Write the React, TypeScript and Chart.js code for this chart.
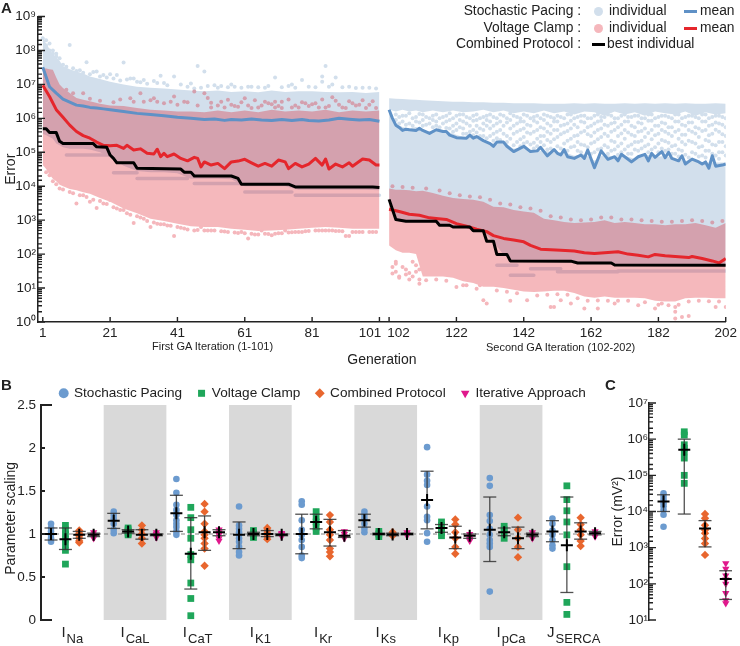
import React, { useEffect, useRef } from "react";
import { Chart, registerables } from "chart.js";
Chart.register(...registerables);

const FONT = "'Liberation Sans', Arial, sans-serif";
const INK = "#222222";
const BLUE_BAND = "#D2DFEC";
const PINK_BAND = "rgba(219,0,16,0.28)";
const PINK_SOLID = "#F5B7BC";
const MAUVE_SOLID = "#D4A0AE";
const BLUE_MEAN = "#5F91C6";
const RED_MEAN = "#E5262C";

const ITERATION_GAP = 1.87;
const pos = (g: number) => (g <= 101 ? g : g + ITERATION_GAP);
const xTickGens = [1, 21, 41, 61, 81, 101, 102, 122, 142, 162, 182, 202];

// ---- Panel A: first iteration
const bandGensA = [1,2,3,4,5,6,7,9,11,13,15,18,21,25,29,33,37,41,45,49,53,57,61,65,69,73,77,81,85,89,93,97,101];
const blueUpperA = [2.3e8,1.6e8,1.1e8,7.9e7,6.3e7,5e7,3.4e7,2.8e7,2.4e7,2.1e7,1.7e7,1.45e7,1.2e7,1e7,8.5e6,7.9e6,7.6e6,7.1e6,6.6e6,6.3e6,6.6e6,6e6,6.3e6,5.9e6,6.6e6,6e6,6.3e6,6.3e6,6e6,5.9e6,6e6,5.6e6,6e6];
const blueLowerA = [3.5e5,3.2e5,2.8e5,2.5e5,1.8e5,1.6e5,1.4e5,1.26e5,1.26e5,1.26e5,1.2e5,1e5,7.1e4,4e4,2.8e4,2.6e4,2.6e4,2.4e4,1.66e4,1.66e4,1.66e4,1.6e4,1e4,1e4,1e4,1e4,7.9e3,7.9e3,7.9e3,7.9e3,7.9e3,7.9e3,7.6e3];
const pinkUpperA = [3e7,2.95e7,2.8e7,2.7e7,1.6e7,1e7,7.8e6,5.6e6,4e6,3.5e6,3.2e6,2.7e6,2.4e6,2.3e6,2e6,1.8e6,1.7e6,1.6e6,1.6e6,1.5e6,1.7e6,1.5e6,1.7e6,1.5e6,1.8e6,1.6e6,1.7e6,1.6e6,1.8e6,1.5e6,1.7e6,1.6e6,1.7e6];
const pinkLowerA = [4.2e4,3.2e4,2.2e4,1.66e4,1.4e4,1.1e4,1e4,8.3e3,7.6e3,6.6e3,6e3,4.5e3,3.5e3,2.2e3,1.6e3,1.1e3,9.5e2,7.9e2,6.6e2,6.3e2,6.3e2,5.6e2,5.2e2,4.8e2,5e2,5.2e2,5.6e2,6e2,6.3e2,6e2,5.6e2,5.6e2,5.6e2];

const blueMeanGensA = [1,3,5,7,9,11,13,15,17,19,21,25,29,33,37,41,45,49,52,55,57,60,63,66,69,72,75,78,80,83,86,89,92,95,98,101];
const blueMeanA = [3.2e7,8.5e6,5.5e6,3.7e6,3e6,2.45e6,2.3e6,2.1e6,2e6,1.9e6,1.8e6,1.6e6,1.4e6,1.3e6,1.2e6,1.07e6,1e6,9.3e5,9.5e5,8.7e5,9.3e5,8.9e5,9.5e5,9e5,8.7e5,9.3e5,8.6e5,9.2e5,8.7e5,8.4e5,8.9e5,1e6,9.4e5,8.9e5,9.3e5,8.2e5];
const redMeanGensA = [1,3,5,7,9,11,13,15,17,19,21,23,25,26,28,30,32,34,35,36,37,38,40,42,44,46,47,48,49,51,53,55,57,59,61,63,65,67,69,71,73,74,76,78,80,82,84,85,86,88,90,92,93,96,98,100,101];
const redMeanA = [9.5e6,4.4e6,1.8e6,1.07e6,6.3e5,4.1e5,3.1e5,2.6e5,2e5,1.6e5,1.55e5,1.6e5,1.3e5,1.6e5,1.17e5,1.26e5,9.3e4,8.9e4,1.23e5,7.4e4,9.3e4,7.4e4,8.9e4,6.6e4,5.6e4,7.1e4,6.6e4,3.7e4,5.2e4,4.2e4,4.7e4,3.3e4,5.2e4,5.5e4,6.2e4,4.9e4,3.9e4,4.7e4,3.9e4,5.9e4,5.2e4,3.3e4,4.7e4,3.7e4,4.5e4,6.6e4,4.2e4,6.3e4,3.2e4,4.5e4,3.7e4,4.9e4,3.9e4,6.3e4,5.9e4,4.2e4,4.2e4];
const bestGensA = [1,2,3,5,6,7,16,17,20,21,22,23,28,29,42,43,45,46,57,59,60,74,76,99,101];
const bestA = [4.9e5,4.9e5,3.8e5,3.8e5,2.1e5,1.8e5,1.8e5,1.45e5,1.4e5,8.3e4,6.6e4,4.9e4,4.9e4,3.4e4,3.2e4,2.6e4,2.6e4,2e4,2e4,1.7e4,1.15e4,1.15e4,9.5e3,9.5e3,9.1e3];

const blueOutGensA = [1,2,2,3,3,4,4,5,5,6,6,8,9,11,14,17,19,21,25,27,28,31,36,40,45,46,47,49,50,58,67,70,78,84,84,85,88,54,62,74,92,96];
const blueOutA = [2.3e8,2e8,1.4e8,1.6e8,1e8,1e8,8e7,6.6e7,8e7,5.9e7,3.7e7,3.3e7,1.45e8,2.5e7,4.5e7,2.4e7,1.9e7,2e7,4.4e7,1.5e7,1.5e7,1.35e7,1.8e7,1.7e7,1.07e7,7.6e6,3.5e7,2.4e7,9e6,8.5e6,8e6,1.6e7,1.35e7,1.2e7,1.7e7,3.5e7,1.6e7,9e6,8.5e6,9e6,8.5e6,8e6];
const blueOutGensA2 = [7,10,12,13,15,16,18,20,22,23,24,26,29,30,32,34,35,37,38,42,44,48,52,53,56,57,60,63,65,68,72,75,76,80,82,86,87,90,94,98,100];
const blueOutA2 = [3.8e7,3e7,2.6e7,2.2e7,2e7,2.3e7,1.7e7,1.6e7,1.5e7,1.9e7,1.3e7,1.4e7,1.2e7,1.15e7,1.05e7,1.25e7,1.1e7,1.1e7,9.5e6,1e7,8.5e6,8e6,9.5e6,8e6,8.2e6,1e7,8e6,8.5e6,8.2e6,9e6,8.2e6,1e7,8e6,8.5e6,8.2e6,8.5e6,1e7,8.2e6,7.8e6,8e6,7.6e6];
const pinkHighGensA = [8,8,10,13,15,18,27,30,31,34,35,39,40,43,46,49,51,54,57,59,61,63,67,68,70,72,72,75,79,82,83,88,91,93,95,97,100,55,51,65,70,77,85,90];
const pinkHighA = [6.9e6,4.9e6,5.5e6,5.5e6,3.8e6,3.3e6,3.9e6,5.5e6,3.1e6,3.9e6,3.1e6,3.1e6,4.4e6,3.1e6,6.2e6,5.5e6,2.9e6,3.1e6,2.5e6,2.2e6,3.9e6,2e6,3.1e6,2.8e6,3.1e6,3.1e6,2e6,2.1e6,2.8e6,2.8e6,2.1e6,3.3e6,2e6,2.8e6,2.5e6,2e6,2e6,2.1e6,2.1e6,2.1e6,2.1e6,2.1e6,2.1e6,2.1e6];
const pinkHighGensA2 = [22,24,28,33,37,41,44,47,50,53,56,58,60,62,64,66,69,71,74,76,78,80,81,84,86,87,89,92,94,96,98,99];
const pinkHighA2 = [3e6,3.6e6,3.1e6,3.4e6,2.8e6,2.5e6,3e6,2.4e6,4e6,2.4e6,3.5e6,2.3e6,3e6,2.4e6,3.4e6,2.4e6,2.6e6,2.3e6,3.6e6,2.4e6,3e6,2.3e6,2.6e6,3.6e6,2.3e6,4.2e6,2.5e6,3.2e6,2.4e6,3.4e6,2.5e6,3.2e6];
const pinkLowGensA = [3,6,11,15,17,19,21,25,28,33,40,46,48,60,62,63,66,67,69,73,78,87,91,92];
const pinkLowA = [2.1e4,8.5e3,3.1e3,3.5e3,2.3e3,3.1e3,3.9e3,2e3,8.3e2,6.3e2,3.4e2,5e2,6.3e2,4.5e2,2.9e2,4e2,5e2,4e2,3.6e2,5e2,4.5e2,5e2,3.4e2,3.4e2];
const pinkEdgeGensA = [2,4,5,7,9,10,12,13,14,16,18,20,22,23,24,26,27,29,30,31,32,34,35,36,37,38,39,41,42,43,44,47,49,50,51,52,54,55,56,58,59,61,64,65,68,70,71,72,74,75,76,77,79,80,82,83,84,85,86,88,89,90,93,94,95,96,98,99,100];
const pinkEdgeA = [2.6e4,1.4e4,1.15e4,8e3,6.8e3,6.2e3,5.4e3,5.4e3,4.8e3,4e3,3.7e3,3e3,2.4e3,2.2e3,2e3,1.6e3,1.45e3,1.3e3,1.2e3,1.1e3,9.5e2,8.5e2,7.8e2,7.6e2,7.6e2,7e2,6.8e2,6.3e2,6e2,5.7e2,5.3e2,5.1e2,5e2,5e2,5e2,5e2,4.7e2,4.6e2,4.5e2,4.3e2,4.2e2,4.1e2,3.8e2,3.8e2,3.9e2,4e2,4.1e2,4.1e2,4.3e2,4.4e2,4.5e2,4.5e2,4.7e2,4.8e2,5e2,5e2,5e2,5e2,5e2,4.8e2,4.8e2,4.7e2,4.5e2,4.5e2,4.5e2,4.5e2,4.5e2,4.5e2,4.5e2];
const stripesA = [[8,21,8.3e4],[22,29,2.5e4],[29,44,1.7e4],[46,60,1.2e4],[61,75,6.8e3],[76,101,5.4e3]];

// ---- Panel A: second iteration
const bandGensB = [102,104,106,108,110,112,115,118,121,124,127,130,133,136,139,142,145,148,151,154,157,160,163,166,169,172,175,178,181,184,187,190,193,196,199,202];
const blueStripUpperB = [3.9e6,3.8e6,3.7e6,3.6e6,3.5e6,3.4e6,3.3e6,3.2e6,3.1e6,3.1e6,3e6,3e6,2.9e6,2.9e6,2.8e6,2.8e6,2.8e6,2.7e6,2.7e6,2.7e6,2.8e6,2.7e6,2.8e6,2.7e6,2.7e6,2.8e6,2.7e6,2.8e6,2.7e6,2.8e6,2.7e6,2.8e6,2.7e6,2.7e6,2.8e6,2.7e6];
const blueStripLowerB = [1.8e6,1.6e6,1.8e6,1.6e6,1.7e6,1.5e6,1.7e6,1.5e6,1.7e6,1.5e6,1.6e6,1.8e6,1.5e6,1.7e6,1.4e6,1.6e6,1.4e6,1.7e6,1.4e6,1.6e6,1.3e6,1.6e6,1.5e6,1.2e6,1.6e6,1.3e6,1.5e6,1.2e6,1.6e6,1.4e6,1.3e6,1.6e6,1.2e6,1.5e6,1.3e6,1.4e6];
const blueCoreUpperB = [1.6e6,7.1e5,5.6e5,5e5,5.6e5,4.5e5,4e5,4.5e5,3.5e5,2.8e5,2.8e5,2.2e5,1.8e5,2e5,1.26e5,1.4e5,1.1e5,1.1e5,1e5,1e5,7.9e4,8.9e4,5.6e4,8.9e4,7.1e4,7.9e4,6.3e4,8.9e4,7.1e4,7.9e4,6.3e4,5.6e4,5.6e4,5e4,5e4,5e4];
const blueCoreLowerB = [3.9e3,1e3,9e2,9e2,9e2,9e2,9e2,7e2,6.2e2,6.2e2,4.9e2,4.7e2,2.3e2,9.5e1,6e1,6e1,6e1,6e1,6e1,6e1,6e1,5.2e1,5.2e1,5.2e1,5.2e1,4.6e1,4.6e1,4.6e1,4.6e1,4.5e1,4.5e1,4.5e1,4.5e1,4.5e1,4.5e1,4.5e1];
const pinkUpperB = [8.5e3,7.9e3,7.9e3,7.6e3,7.1e3,7.4e3,6.3e3,5.2e3,4.5e3,4.2e3,4e3,3.5e3,2.5e3,2.4e3,2e3,1.8e3,1.66e3,1.1e3,1e3,8.9e2,8.3e2,8.5e2,8.9e2,1e3,8.3e2,8.9e2,8.3e2,7.6e2,7.6e2,7.1e2,7.6e2,7.6e2,8.3e2,7.1e2,6e2,8.3e2];
const pinkLowerB = [178,130,110,110,100,22,22,22,20,16,14,11,11,10,8.9,7.9,7.6,7.9,8.3,8.3,7.1,5.6,5.2,5.6,5.2,5.2,5.2,5,4.2,4,4,5,5.2,5.2,5,5];

const blueMeanGensB = [102,103,104,105,106,107,108,110,111,112,114,116,118,119,120,122,125,126,127,128,130,132,133,134,136,137,139,142,144,146,147,149,151,152,153,154,155,157,159,160,161,163,165,167,169,170,171,172,174,176,178,179,180,181,183,184,185,186,188,189,190,192,194,195,196,197,198,199,201,202];
const blueMeanB = [1.8e6,1e6,6.3e5,5.4e5,4.4e5,4.8e5,4.6e5,4.4e5,5.1e5,4.4e5,3.6e5,4.6e5,4.1e5,4.1e5,3.2e5,2.7e5,2.6e5,3.2e5,2.6e5,2.9e5,2.2e5,1.8e5,1.5e5,2e5,2e5,1.5e5,1.05e5,1.5e5,1.05e5,1.1e5,1.4e5,7.8e4,1.2e5,9.3e4,8.3e4,1.2e5,7.4e4,6.6e4,8.3e4,6.6e4,1.17e5,3.5e4,1.1e5,6.2e4,7.4e4,5.6e4,8.7e4,7.4e4,5.2e4,7.4e4,8.7e4,5.6e4,9.3e4,7.1e4,1.05e5,6.9e4,1e5,6.6e4,5.6e4,7.9e4,4.5e4,6.3e4,5.2e4,4.5e4,5.2e4,3.4e4,7.9e4,3.9e4,4.2e4,4.5e4];
const redMeanGensB = [102,105,108,111,114,116,119,122,125,128,131,133,136,139,142,144,147,150,153,157,160,163,167,170,173,176,179,181,184,188,191,192,195,198,200,202];
const redMeanB = [2.1e3,1.8e3,1.5e3,1.4e3,1.17e3,1.12e3,1.05e3,7.9e2,6.6e2,5.4e2,4.6e2,3.5e2,2.9e2,2.6e2,2.3e2,1.8e2,1.4e2,1.35e2,1.3e2,1.23e2,1.1e2,1.05e2,1.12e2,1.17e2,1e2,9.3e1,8.3e1,9.8e1,8.9e1,8.3e1,7.9e1,8.5e1,7.4e1,6.3e1,5.5e1,7.4e1];
const bestGensB = [102,104,107,116,117,120,121,126,127,130,131,133,134,137,138,156,158,168,169,202];
const bestB = [4.1e3,1.05e3,9.3e2,9.3e2,7.1e2,7.1e2,6.3e2,6.3e2,4.9e2,4.9e2,2.4e2,2.4e2,9.8e1,9.8e1,6.3e1,6.2e1,5.5e1,5.5e1,4.8e1,4.7e1];

const blueGapB: [number, number[]][] = [
  [104,[1.3e6,9e5]],[105,[1.1e6,7e5]],[106,[1.2e6,8e5]],[107,[1.2e6,6.5e5]],[108,[1.4e6,7e5]],[109,[1e6,6e5]],[110,[1.1e6,8e5]],[111,[1.35e6,7.5e5]],[112,[1.3e6,9e5,6e5]],[113,[1.1e6,6.5e5]],
  [114,[1e6,7e5]],[115,[1.2e6,9e5,5.5e5]],[116,[1.3e6,8e5,6e5]],[117,[1e6,5.5e5]],[118,[1.1e6,7e5]],[119,[1.2e6,8e5,5.2e5]],[120,[1.4e6,9e5,5e5]],[121,[1e6,6e5,4e5]],[122,[1.2e6,7e5,4.5e5]],[123,[1.3e6,9e5,5.5e5]],
  [124,[1.3e6,8e5,5e5,3.5e5]],[125,[1.1e6,7e5,3.5e5]],[126,[1e6,6e5,4e5]],[127,[1.2e6,8.5e5,4.5e5,3.2e5]],[128,[1.3e6,9e5,6e5,3.8e5]],[129,[1e6,5e5,3e5]],[130,[1.1e6,7e5,4.5e5,3e5]],[131,[1.2e6,9e5,6e5,2.6e5]],
  [132,[1.3e6,8e5,5e5,3e5]],[133,[1.1e6,6e5,3.5e5,2.2e5]],[134,[1e6,7e5,4e5,2.6e5]],[135,[1.3e6,8e5,4.5e5,2.3e5]],[136,[1.2e6,6e5,3.5e5]],[137,[1e6,7.5e5,3e5,2e5]],[138,[1.4e6,9e5,5e5,2.5e5]],[139,[1.2e6,6e5,3.5e5,1.6e5]],
  [140,[1.1e6,7e5,4e5,2e5]],[141,[1e6,8e5,4.5e5,2.4e5,1.5e5]],[142,[1.3e6,8e5,5e5,2.8e5,1.8e5]],[143,[1.2e6,6.5e5,3.8e5,2e5]],[144,[1e6,6e5,3.5e5,1.7e5]],[145,[1.1e6,8.5e5,4e5,1.9e5,1.3e5]],[146,[1.2e6,7.5e5,4.5e5,2.5e5,1.5e5]],[147,[1e6,5.5e5,3e5,2e5]],
  [148,[1.3e6,9e5,5e5,3e5,1.6e5]],[149,[1.2e6,7e5,4e5,2.3e5,1.2e5]],[150,[1.1e6,6e5,3.5e5,2e5,1.3e5]],[151,[1e6,8e5,4.5e5,2.4e5]],[152,[1.2e6,8e5,4.5e5,2.8e5,1.5e5]],[153,[1.1e6,6e5,3.4e5,1.3e5]],[154,[1e6,6.5e5,3.8e5,1.8e5]],[155,[1.3e6,7e5,4.2e5,2.2e5,1.1e5]],
  [156,[1.3e6,8.5e5,5e5,2.5e5,1.4e5]],[157,[1e6,6.5e5,3e5,1.5e5]],[158,[1.1e6,5.5e5,3.2e5,2e5,1.1e5]],[159,[1.2e6,8e5,3.8e5,1.7e5,1e5]],[160,[1.2e6,7.5e5,4.2e5,1.6e5]],[161,[1e6,5.5e5,3.4e5,1.4e5]],[162,[1e6,6e5,3e5,1.8e5,9e4]],[163,[1.2e6,7e5,3.8e5,2e5,1e5]],
  [164,[1.3e6,8e5,4.5e5,2.4e5,1.2e5]],[165,[1.1e6,8.5e5,5e5,2.8e5,1.3e5]],[166,[1.1e6,6.5e5,3.5e5,1.6e5]],[167,[1.3e6,6e5,3e5,1.4e5,9e4]],[168,[1.2e6,7e5,4e5,2.2e5,1.1e5]],[169,[1e6,7.5e5,4.5e5,2e5,1.2e5]],[170,[1e6,5.5e5,3e5,1.5e5,8.5e4]],[171,[1.2e6,6.5e5,3.6e5,1.8e5,1e5]],
  [172,[1.3e6,8e5,4.5e5,2.5e5,1.2e5]],[173,[1.1e6,8e5,3.8e5,1.5e5,9e4]],[174,[1.1e6,6e5,3.3e5,1.7e5,9e4]],[175,[1.2e6,5.5e5,3e5,2e5,1.2e5]],[176,[1.2e6,7.5e5,4e5,2e5,1.1e5]],[177,[1e6,7e5,4.2e5,2.2e5,1.3e5]],[178,[1e6,5e5,2.8e5,1.5e5]],[179,[1.3e6,8.5e5,3.7e5,1.7e5,1e5]],
  [180,[1.3e6,8.5e5,4.5e5,2.4e5,1.2e5]],[181,[1e6,6e5,3.2e5,1.4e5]],[182,[1.1e6,6e5,3.5e5,1.8e5,1e5]],[183,[1.2e6,7.5e5,4.5e5,2.3e5,1.3e5]],[184,[1.2e6,7e5,4e5,2.1e5,1.1e5]],[185,[1.1e6,5.5e5,3.5e5,1.9e5,1.2e5]],[186,[1e6,5.5e5,3e5,1.5e5,9e4]],[187,[1.3e6,8e5,4e5,1.6e5,9e4]],
  [188,[1.3e6,8e5,4.5e5,2.5e5,1.2e5,7.5e4]],[189,[1e6,6.5e5,3.3e5,2e5,1.1e5]],[190,[1.1e6,6e5,3.3e5,1.7e5,8.5e4]],[191,[1.2e6,7.5e5,4.5e5,2.2e5,7e4]],[192,[1.2e6,7.5e5,4e5,2e5,1e5]],[193,[1.1e6,5.5e5,3.6e5,1.8e5,9e4]],[194,[1e6,5e5,2.8e5,1.4e5,7.5e4]],[195,[1.3e6,8e5,4.2e5,1.5e5,8e4]],
  [196,[1.3e6,8e5,4.5e5,2.3e5,1.1e5,7e4]],[197,[1e6,6e5,3.2e5,2.1e5,1.1e5]],[198,[1.1e6,6.5e5,3.5e5,1.7e5,9e4]],[199,[1.2e6,7.5e5,4.6e5,1.6e5,8e4]],[200,[1.2e6,7e5,4e5,2e5,1e5,6.5e4]],[201,[1.1e6,6.5e5,3.4e5,2e5,1e5]],[202,[1e6,5.5e5,3e5,1.5e5,8e4]],
];
const pinkLowGensB = [187,187,187,189,191,160,164,176,181,183,199,202,156,169,153,130,131,138,143,150,151,122,124,129,111,103,104,103,104,105,106,107,107,108,108,109,109,110,110,111,111,104,105];
const pinkLowB = [2.75,2,1.26,1.4,1.5,2.5,2.5,3.1,2.5,3.5,2.75,2.75,3.5,3.5,4.4,4.4,3.5,4.2,4.4,2.75,2.75,10.7,12,12,13.5,42,52,27,30,20,42,35,25,18,28,60,22,47,30,18,35,60,22];
const pinkEdgeGensB = [113,116,119,125,128,134,137,140,146,149,152,155,158,161,164,167,170,173,178,182,185,188,191,194,197,200];
const pinkEdgeB = [17,18,16.5,12,9.5,8.5,7.8,7,6,6.4,6.6,6.3,5,4.2,4.3,4.2,4.2,4.2,3.8,3.2,3.1,3.2,4,4.2,4.1,4];
const pinkTopGensB = [103,106,109,113,117,120,123,126,129,132,135,138,141,144,147,150,153,156,159,162,165,168,171,174,177,180,183,186,189,192,195,198,201];
const pinkTopB = [1e4,9.5e3,9e3,8.5e3,7.5e3,6.2e3,5.4e3,5e3,4.7e3,4e3,3.1e3,2.9e3,2.4e3,2.2e3,1.9e3,1.3e3,1.2e3,1.05e3,1e3,1.05e3,1.2e3,1.2e3,1.05e3,1.05e3,1e3,9.5e2,9e2,9e2,9.5e2,1e3,9.5e2,8.5e2,9.5e2];
const stripesB = [[134,140,4.7e1],[138,145,2.4e1],[144,153,3.7e1],[152,170,3e1],[170,202,3.2e1]];

// ---- Panel B
const parameterLabels = [["I","Na"],["I","CaL"],["I","CaT"],["I","K1"],["I","Kr"],["I","Ks"],["I","Kp"],["I","pCa"],["J","SERCA"]];
const shadedGroups = [1, 3, 5, 7];
const parameterTicks = [0, 0.5, 1, 1.5, 2, 2.5];
const protocolNames = ["Stochastic Pacing", "Voltage Clamp", "Combined Protocol", "Iterative Approach"];

const stochasticPts = [
  [1.12,1.07,1.03,0.99,0.95,0.91],[1.26,1.22,1.18,1.12,1.05,1.01],[1.64,1.48,1.34,1.28,1.22,1.16,1.12,1.08,1.03,0.99],
  [1.32,1.1,1.06,1.02,0.99,0.95,0.91,0.85,0.79,0.75],[1.38,1.34,1.16,1.05,0.99,0.93,0.85,0.75,0.72],[1.26,1.22,1.18,1.12,1.06,1.02],
  [2.01,1.69,1.62,1.57,1.32,1.2,1.16,1.01,0.91],[1.65,1.56,1.22,1.15,1.06,0.99,0.93,0.89,0.85,0.33],[1.18,1.12,1.04,0.99,0.93,0.87,0.83],
];
const voltagePts = [
  [1.1,1.05,1,0.94,0.88,0.81,0.65],[1.07,1.05,1.03,1.01,0.99],[1.31,1.19,1.05,0.95,0.76,0.7,0.43,0.25,0.05],
  [1.04,1.01,0.99,0.96],[1.26,1.2,1.14,1.08,1.03],[1.03,1,0.97],[1.14,1.1,1.06,1.02,0.98],[1.09,1.05,1.01,0.95],[1.56,1.4,1.27,1.14,0.99,0.62,0.205,0.065],
];
const combinedPts = [
  [1.04,1.01,0.98,0.95,0.92,0.9],[1.1,1.05,1,0.95,0.89],[1.35,1.26,1.12,1.03,0.99,0.95,0.89,0.83,0.63],
  [1.07,1.04,1.01,0.97,0.94],[1.22,1.14,1.05,0.99,0.93,0.83,0.79,0.74],[1.02,1,0.98],[1.17,1.11,1.02,0.95,0.85,0.77],[1.19,1.05,0.95,0.85,0.73],[1.19,1.11,1.05,0.99,0.92,0.86],
];
const iterativePts = [
  [1.02,0.99,0.97,0.95],[1.02,1,0.98,0.96],[1.05,1.02,0.99,0.95,0.92],[1.01,1,0.99,0.97],[1.03,1,0.97,0.95],[1.02,1,0.98],[1,0.97,0.94,0.92],[1.02,0.99,0.95],[1.03,1,0.97],
];
const stochasticMean = [1,1.155,1.24,0.99,1,1.16,1.395,1.05,1.03];
const stochasticHi = [1.07,1.24,1.45,1.14,1.23,1.23,1.73,1.43,1.155];
const stochasticLo = [0.93,1.065,1.03,0.83,0.77,1.08,1.06,0.68,0.91];
const voltageMean = [0.94,1.03,0.77,1,1.14,1,1.07,1.02,0.87];
const voltageHi = [1.07,1.05,1.19,1.02,1.23,1.01,1.11,1.07,1.43];
const voltageLo = [0.82,1.01,0.36,0.98,1.06,0.99,1.02,0.98,0.32];
const combinedMean = [0.99,0.99,1.02,1,1.02,0.995,0.96,0.95,1.03];
const combinedHi = [1.03,1.05,1.21,1.04,1.17,1.01,1.09,1.08,1.13];
const combinedLo = [0.95,0.94,0.81,0.97,0.86,0.98,0.83,0.83,0.94];
const iterativeMean = [0.99,0.99,1.02,0.99,0.98,1,0.98,0.99,1.01];
const iterativeHi = [1.01,1,1.05,1,1.04,1.01,1,1.01,1.03];
const iterativeLo = [0.97,0.98,0.98,0.98,0.96,0.99,0.95,0.97,0.99];

// ---- Panel C
const errorStochastic = [3.2e4,2.6e4,2.1e4,1.7e4,1.4e4,1.1e4,8.1e3,3.8e3];
const errorVoltage = [1.6e6,1.3e6,7e5,5.6e5,4.5e5,3e5,1e5,6e4];
const errorCombined = [8.5e3,6.5e3,4.2e3,3.1e3,2.5e3,1.8e3,1.3e3,6.3e2];
const errorIterative = [3.7e2,2.6e2,1.7e2,1.3e2,1e2,5.5e1,3.5e1,2.9e1];
const errorMeans = [1.9e4,5.1e5,3.4e3,1.35e2];
const errorHi = [2.9e4,1e6,5.6e3,2.3e2];
const errorLo = [1e4,8.5e3,1.05e3,3.7e1];

const PROTOCOL_STYLE = [
  { color: "#6C9BCF", pointStyle: "circle", radius: 3.3, rotation: 0 },
  { color: "#1FA65A", pointStyle: "rect", radius: 4.8, rotation: 0 },
  { color: "#E8662E", pointStyle: "rectRot", radius: 4.2, rotation: 0 },
  { color: "#E0188C", pointStyle: "triangle", radius: 4.2, rotation: 180 },
];
const SLOT = [0.16, 0.39, 0.61, 0.84];

const SUP = "⁰¹²³⁴⁵⁶⁷⁸⁹";
const powerLabel = (v: number) => {
  const e = Math.round(Math.log10(v));
  return Math.abs(Math.log10(v) - e) < 1e-6 ? "10" + String(e).split("").map((c) => SUP[+c]).join("") : "";
};
const isDecade = (v: number) => Math.abs(Math.log10(v) - Math.round(Math.log10(v))) < 1e-6;

const zip = (gens: number[], vals: number[]) => gens.map((g, i) => ({ x: pos(g), y: vals[i] }));

const lineDs = (data: any[], color: string, width: number) => ({
  data, borderColor: color, backgroundColor: color, borderWidth: width, pointRadius: 0, fill: false, tension: 0,
  borderJoinStyle: "round", showLine: true,
});
const dotDs = (data: any[], color: string) => ({
  data, showLine: false, pointRadius: 2, pointBorderWidth: 0, pointBackgroundColor: color, backgroundColor: color, borderColor: color,
});
const bandDs = (gens: number[], upper: number[], lower: number[], color: string) => [
  { data: zip(gens, upper), borderWidth: 0, pointRadius: 0, backgroundColor: color, fill: "+1", showLine: true },
  { data: zip(gens, lower), borderWidth: 0, pointRadius: 0, fill: false, showLine: true },
];
const stripeDs = (rows: number[][]) => {
  const data: any[] = [];
  rows.forEach(([a, b, v]) => {
    data.push({ x: pos(a), y: v }, { x: pos(b), y: v }, { x: pos(b), y: NaN });
  });
  return { ...lineDs(data, BLUE_BAND, 3.5), borderCapStyle: "round", spanGaps: false };
};

const inwardTicks = (lengths: Record<string, (v: number) => number>, color = INK, width = 1.4) => ({
  id: "inwardTicks",
  afterDatasetsDraw(chart: any) {
    const { ctx, chartArea } = chart;
    ctx.save();
    ctx.strokeStyle = color;
    ctx.lineWidth = width;
    ctx.beginPath();
    Object.keys(lengths).forEach((id) => {
      const s = chart.scales[id];
      s.ticks.forEach((t: any) => {
        const p = s.getPixelForValue(t.value);
        const len = lengths[id](t.value);
        if (id === "y") {
          ctx.moveTo(chartArea.left, p);
          ctx.lineTo(chartArea.left + len, p);
        } else {
          ctx.moveTo(p, chartArea.bottom);
          ctx.lineTo(p, chartArea.bottom - len);
        }
      });
    });
    ctx.stroke();
    ctx.restore();
  },
});

const groupDecor = {
  id: "groupDecor",
  beforeLayout(chart: any) {
    const l = chart.legend;
    if (l && !l.__tight) {
      const fit = l.fit.bind(l);
      l.fit = () => { fit(); l.height = 34.5; };
      l.__tight = true;
    }
  },
  beforeDatasetsDraw(chart: any) {
    const { ctx, chartArea, scales } = chart;
    ctx.save();
    ctx.fillStyle = "#D9D9D9";
    shadedGroups.forEach((g) => {
      const a = scales.x.getPixelForValue(g);
      const b = scales.x.getPixelForValue(g + 1);
      ctx.fillRect(a, chartArea.top, b - a, chartArea.bottom - chartArea.top);
    });
    ctx.restore();
  },
  afterDraw(chart: any) {
    const { ctx, chartArea, scales } = chart;
    ctx.save();
    ctx.fillStyle = INK;
    ctx.textBaseline = "alphabetic";
    ctx.textAlign = "left";
    parameterLabels.forEach(([base, sub], i) => {
      ctx.font = `15px ${FONT}`;
      const w1 = ctx.measureText(base).width;
      ctx.font = `13px ${FONT}`;
      const w2 = ctx.measureText(sub).width;
      const c = scales.x.getPixelForValue(i + 0.5);
      const x0 = c - (w1 + w2 + 1) / 2;
      ctx.font = `15px ${FONT}`;
      ctx.fillText(base, x0, chartArea.bottom + 17);
      ctx.font = `13px ${FONT}`;
      ctx.fillText(sub, x0 + w1 + 1, chartArea.bottom + 23);
    });
    ctx.restore();
  },
};

const errorDatasets = (xs: number[], mean: number[], hi: number[], lo: number[], capR: number) => {
  const bars: any[] = [];
  xs.forEach((x, i) => bars.push({ x, y: lo[i] }, { x, y: hi[i] }, { x: NaN, y: NaN }));
  return [
    { data: xs.map((x, i) => ({ x, y: mean[i] })), showLine: false, pointStyle: "cross", pointRadius: capR - 0.5, pointBorderWidth: 2, pointBorderColor: "#000", pointBackgroundColor: "#000" },
    { data: bars, showLine: true, spanGaps: false, borderColor: "rgba(50,50,50,0.85)", borderWidth: 1.3, pointStyle: "line", pointRadius: capR, pointBorderWidth: 1.3, pointBorderColor: "rgba(50,50,50,0.85)", fill: false },
  ];
};
const pointDataset = (label: string | undefined, pts: { x: number; y: number }[], p: number) => {
  const st = PROTOCOL_STYLE[p];
  return {
    label, data: pts, showLine: false, pointStyle: st.pointStyle, pointRadius: st.radius, pointRotation: st.rotation,
    pointBackgroundColor: st.color, pointBorderWidth: 0, backgroundColor: st.color, borderColor: st.color, borderWidth: 0,
  };
};

const tickFont = { family: FONT, size: 13.5 };
const titleFont = { family: FONT, size: 14 };

const T = ({ x, y, right, children, size = 13.8, bold }: any) => (
  <div style={{
    position: "absolute", top: y - 9, height: 18, lineHeight: "18px", whiteSpace: "nowrap", color: INK,
    fontFamily: FONT, fontSize: size, fontWeight: bold ? 700 : 400,
    ...(right !== undefined ? { right: 740 - right } : { left: x }),
  }}>{children}</div>
);
const Dot = ({ x, y, c }: any) => (
  <div style={{ position: "absolute", left: x - 4.5, top: y - 4.5, width: 9, height: 9, borderRadius: 5, background: c }} />
);
const Dash = ({ x, y, c }: any) => (
  <div style={{ position: "absolute", left: x, top: y - 1.5, width: 13, height: 3, background: c }} />
);

export default function App() {
  const aRef = useRef<HTMLCanvasElement>(null);
  const bRef = useRef<HTMLCanvasElement>(null);
  const cRef = useRef<HTMLCanvasElement>(null);

  useEffect(() => {
    const blueGapPoints: any[] = [];
    blueGapB.forEach(([g, vals]) => vals.forEach((v) => blueGapPoints.push({ x: pos(g), y: v })));

    const chartA = new Chart(aRef.current!, {
      type: "line",
      data: {
        datasets: [
          lineDs(zip(bestGensA, bestA), "#000", 3),
          lineDs(zip(bestGensB, bestB), "#000", 3),
          lineDs(zip(blueMeanGensA, blueMeanA), BLUE_MEAN, 3),
          lineDs(zip(blueMeanGensB, blueMeanB), BLUE_MEAN, 3),
          lineDs(zip(redMeanGensA, redMeanA), RED_MEAN, 3),
          lineDs(zip(redMeanGensB, redMeanB), RED_MEAN, 3),
          dotDs(zip(pinkHighGensA, pinkHighA), MAUVE_SOLID),
          dotDs(zip(pinkHighGensA2, pinkHighA2), MAUVE_SOLID),
          dotDs(zip(pinkLowGensA, pinkLowA), PINK_SOLID),
          dotDs(zip(pinkEdgeGensA, pinkEdgeA), PINK_SOLID),
          dotDs(zip(pinkLowGensB, pinkLowB), PINK_SOLID),
          dotDs(zip(pinkEdgeGensB, pinkEdgeB), PINK_SOLID),
          dotDs(zip(pinkTopGensB, pinkTopB), MAUVE_SOLID),
          ...bandDs(bandGensA, pinkUpperA, pinkLowerA, PINK_BAND),
          ...bandDs(bandGensB, pinkUpperB, pinkLowerB, PINK_BAND),
          stripeDs(stripesA),
          stripeDs(stripesB),
          dotDs(zip(blueOutGensA, blueOutA), BLUE_BAND),
          dotDs(zip(blueOutGensA2, blueOutA2), BLUE_BAND),
          dotDs(blueGapPoints, BLUE_BAND),
          ...bandDs(bandGensA, blueUpperA, blueLowerA, BLUE_BAND),
          ...bandDs(bandGensB, blueStripUpperB, blueStripLowerB, BLUE_BAND),
          ...bandDs(bandGensB, blueCoreUpperB, blueCoreLowerB, BLUE_BAND),
        ] as any,
      },
      options: {
        animation: false, responsive: false,
        layout: { padding: { top: 16.5, right: 9, left: 0, bottom: 0 } },
        plugins: { legend: { display: false }, tooltip: { enabled: false } },
        scales: {
          x: {
            type: "linear", min: -0.42, max: 203.9,
            grid: { display: false, drawTicks: false },
            border: { color: INK, width: 1.5 },
            afterBuildTicks: (s: any) => { s.ticks = xTickGens.map((g) => ({ value: pos(g) })); },
            afterFit: (s: any) => { s.height = 50; },
            ticks: {
              autoSkip: false, maxRotation: 0, padding: 3, color: INK, font: tickFont,
              callback: (v: any) => {
                const g = v <= 101 ? v : Math.round(v - ITERATION_GAP);
                if (g === 101) return "101     ";
                if (g === 102) return "     102";
                return String(g);
              },
            },
            title: { display: true, text: "Generation", color: INK, font: titleFont, align: "center", padding: { top: 0, bottom: 3 } },
          },
          y: {
            type: "logarithmic", min: 1, max: 1e9,
            grid: { display: false, drawTicks: false },
            border: { color: INK, width: 1.5 },
            afterFit: (s: any) => { s.width = 38; },
            ticks: { autoSkip: false, padding: 2, color: INK, font: tickFont, callback: (v: any) => powerLabel(v) },
            title: { display: true, text: "Error", color: INK, font: titleFont, padding: { top: 3, bottom: 0 } },
          },
        },
      } as any,
      plugins: [inwardTicks({ y: (v) => (isDecade(v) ? 7 : 4), x: () => 5 }) as any],
    });

    const datasetsB: any[] = [];
    const tables = [
      [stochasticPts, stochasticMean, stochasticHi, stochasticLo],
      [voltagePts, voltageMean, voltageHi, voltageLo],
      [combinedPts, combinedMean, combinedHi, combinedLo],
      [iterativePts, iterativeMean, iterativeHi, iterativeLo],
    ] as any[];
    tables.forEach(([, mean, hi, lo], p) => {
      datasetsB.push(...errorDatasets(mean.map((_: number, i: number) => i + SLOT[p]), mean, hi, lo, 6.5));
    });
    tables.forEach(([pts], p) => {
      const flat: any[] = [];
      pts.forEach((vals: number[], i: number) => vals.forEach((y) => flat.push({ x: i + SLOT[p], y })));
      datasetsB.push(pointDataset(protocolNames[p], flat, p));
    });
    datasetsB.push({
      data: [{ x: 0, y: 1 }, { x: parameterLabels.length, y: 1 }], showLine: true, pointRadius: 0,
      borderColor: "#808080", borderWidth: 1.2, borderDash: [4, 3], fill: false,
    });

    const chartB = new Chart(bRef.current!, {
      type: "scatter",
      data: { datasets: datasetsB },
      options: {
        animation: false, responsive: false,
        layout: { padding: { top: -4.5, right: 0, left: 0, bottom: 26 } },
        plugins: {
          tooltip: { enabled: false },
          legend: {
            display: true, position: "top",
            labels: {
              usePointStyle: true, boxWidth: 7, boxHeight: 7, color: INK, font: { family: FONT, size: 13.6 }, padding: 16,
              filter: (item: any) => !!item.text,
            },
          },
        },
        scales: {
          x: { type: "linear", min: 0, max: 9.525, display: false },
          y: {
            type: "linear", min: 0, max: 2.5,
            grid: { display: false, drawTicks: false },
            border: { color: INK, width: 2 },
            afterBuildTicks: (s: any) => { s.ticks = parameterTicks.map((value) => ({ value })); },
            afterFit: (s: any) => { s.width = 41; },
            ticks: { padding: 5, color: INK, font: tickFont, autoSkip: false, callback: (v: any) => String(v) },
            title: { display: true, text: "Parameter scaling   ", color: INK, font: titleFont, padding: { top: 3, bottom: 0 } },
          },
        },
      } as any,
      plugins: [groupDecor as any, inwardTicks({ y: (v) => (v === 0 || v === 2.5 ? 11 : 4) }, INK, 2) as any],
    });

    const errorSets = [errorStochastic, errorVoltage, errorCombined, errorIterative];
    const xsC = errorSets.map((_, i) => i + 1);
    const chartC = new Chart(cRef.current!, {
      type: "scatter",
      data: {
        datasets: [
          ...errorDatasets(xsC, errorMeans, errorHi, errorLo, 6.5),
          ...errorSets.map((vals, p) => pointDataset(undefined, vals.map((y) => ({ x: p + 1, y })), p)),
        ] as any,
      },
      options: {
        animation: false, responsive: false,
        layout: { padding: { top: 28, right: 0, left: 0, bottom: 26 } },
        plugins: { legend: { display: false }, tooltip: { enabled: false } },
        scales: {
          x: { type: "linear", min: 0.3, max: 4.3, display: false },
          y: {
            type: "logarithmic", min: 10, max: 1e7,
            grid: { display: false, drawTicks: false },
            border: { color: INK, width: 1.5 },
            afterFit: (s: any) => { s.width = 39; },
            ticks: { autoSkip: false, padding: 1, color: INK, font: tickFont, callback: (v: any) => powerLabel(v) },
            title: { display: true, text: "Error (mV²)", color: INK, font: titleFont, padding: 0 },
          },
        },
      } as any,
      plugins: [inwardTicks({ y: (v) => (isDecade(v) ? 7 : 4) }) as any],
    });

    return () => {
      chartA.destroy();
      chartB.destroy();
      chartC.destroy();
    };
  }, []);

  return (
    <div style={{ position: "absolute", left: 0, top: 0, width: 740, height: 646, background: "#fff", overflow: "hidden" }}>
      <canvas ref={aRef} width={740} height={372} style={{ position: "absolute", left: 0, top: 0 }} />
      <canvas ref={bRef} width={646} height={271} style={{ position: "absolute", left: 0, top: 375 }} />
      <canvas ref={cRef} width={130} height={271} style={{ position: "absolute", left: 610, top: 375 }} />

      <T x={1} y={8} size={15} bold>A</T>
      <T x={1} y={385} size={15} bold>B</T>
      <T x={605} y={385} size={15} bold>C</T>

      <T right={581} y={11}>Stochastic Pacing :</T>
      <T right={581} y={28}>Voltage Clamp :</T>
      <T right={581} y={44}>Combined Protocol :</T>
      <Dot x={598} y={11} c={BLUE_BAND} />
      <Dot x={598} y={28} c={PINK_SOLID} />
      <T x={609} y={11}>individual</T>
      <T x={609} y={28}>individual</T>
      <Dash x={684} y={11} c={BLUE_MEAN} />
      <Dash x={684} y={28} c={RED_MEAN} />
      <T x={700} y={11}>mean</T>
      <T x={700} y={28}>mean</T>
      <Dash x={592} y={44} c="#000" />
      <T x={607} y={44}>best individual</T>

      <T x={152} y={346} size={11}>First GA Iteration (1-101)</T>
      <T x={486} y={347} size={11}>Second GA Iteration (102-202)</T>
    </div>
  );
}
